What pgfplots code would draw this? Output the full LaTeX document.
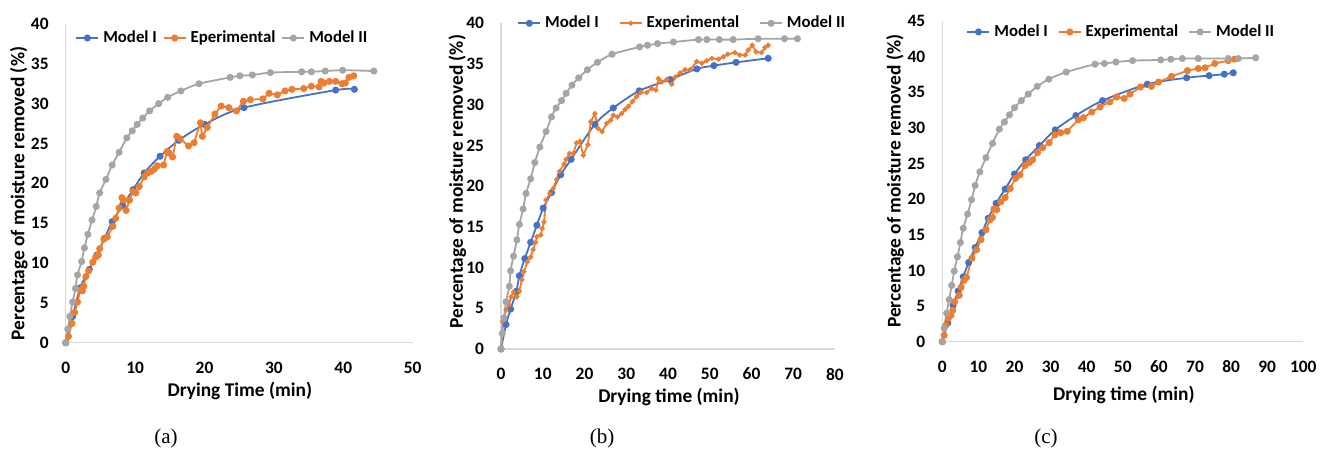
\documentclass[border=0pt]{standalone}
\usepackage{pgfplots}
\pgfplotsset{compat=1.18}
\usepackage{fontspec}
\setmainfont{Carlito}
\newfontfamily\capfont{Liberation Serif}

\definecolor{mblue}{HTML}{4472C4}
\definecolor{morange}{HTML}{ED7D31}
\definecolor{mgray}{HTML}{A5A5A5}
\definecolor{axgray}{HTML}{D9D9D9}

\newcommand\labfont{\fontsize{9.7}{11}\selectfont\bfseries}

\pgfplotsset{
  panel/.style={
    scale only axis,
    clip=false,
    axis lines*=left,
    axis line style={draw=axgray, line width=0.8pt, -},
    major tick length=0pt,
    /pgf/number format/assume math mode=true,
    tick label style={font=\fontsize{8.7}{10}\selectfont\bfseries},
    yticklabel shift=5pt,
    xticklabel shift=6pt,
    ymin=0, xmin=0,
    legend columns=3,
    legend style={draw=none, fill=none, font=\fontsize{8.4}{10}\selectfont\bfseries,
      inner sep=0pt, anchor=west},
    legend cell align=left,
    legend image code/.code={%
      \draw[mark repeat=2,mark phase=2,##1] plot coordinates {(0pt,0pt) (5.5pt,0pt) (11pt,0pt)};},
  },
  m1/.style={color=mblue, line width=0.9pt, mark=*, mark size=1.3pt, smooth},
  ex/.style={color=morange, line width=0.9pt, mark=*, mark size=1.3pt},
  m2/.style={color=mgray, line width=0.9pt, mark=*, mark size=1.3pt, smooth},
}

\begin{document}
\begin{tikzpicture}
\useasboundingbox (0,0) rectangle (666.5pt,227pt);

% ---------- (a)
\begin{axis}[panel,
  at={(32.85pt,55.65pt)}, anchor=south west,
  width=173.5pt, height=159.35pt,
  xmax=50, ymax=40,
  xtick={0,10,...,50}, ytick={0,5,...,40},
  xlabel={Drying Time (min)},
  ylabel={Percentage of moisture removed (\%)},
  every axis x label/.style={at={(axis description cs:0.502,-0.152)}, anchor=center, font=\labfont},
  every axis y label/.style={at={(axis description cs:-0.135,0.468)}, rotate=90, anchor=center, font=\labfont},
  legend style={at={(axis description cs:0.027,0.956)}},
  /tikz/every even column/.append style={column sep=1pt},
]
\addplot[m1] coordinates {
(0,0) (1.0,3.3) (2.1,6.9) (3.4,9.2) (4.5,11.0) (5.6,13.1) (6.7,15.2) (8.2,17.2)
(9.7,19.2) (11.3,21.3) (13.6,23.4) (16.3,25.4) (20.0,27.4) (25.7,29.5) (38.9,31.7) (41.6,31.8)};
\addplot[ex] coordinates {
(0,0) (0.4,0.8) (0.9,2.4) (1.3,3.8) (1.7,5.1) (2.1,6.6) (2.4,6.5) (2.6,7.1) (2.9,8.3)
(3.3,9.0) (3.9,10.1) (4.3,10.7) (4.7,11.0) (4.9,11.8) (5.5,13.0) (6.0,13.3) (6.8,14.6)
(7.2,15.6) (7.7,16.9) (8.1,18.2) (8.4,17.9) (8.7,16.6) (9.2,17.9) (9.7,19.0) (10.1,18.8)
(10.6,19.6) (11.3,20.8) (11.8,21.3) (12.3,21.5) (12.8,21.8) (13.2,22.2) (14.1,22.3)
(14.6,24.0) (14.9,23.8) (15.4,23.3) (16.0,25.9) (16.5,25.6) (17.7,24.7) (18.5,25.1)
(19.4,27.6) (19.7,25.9) (20.4,27.0) (21.5,28.7) (22.4,29.7) (23.5,29.5) (24.6,29.1)
(25.6,30.3) (26.6,30.5) (28.4,30.6) (29.3,31.3) (30.5,31.1) (31.6,31.6) (32.6,31.8)
(34.3,31.9) (35.4,32.2) (36.5,32.1) (36.8,32.8) (37.2,32.6) (38.0,32.8) (38.9,32.8)
(39.8,32.5) (40.3,32.6) (40.8,33.3) (41.5,33.5)};
\addplot[m2] coordinates {
(0,0) (0.3,1.7) (0.6,3.3) (1.0,5.1) (1.4,6.8) (1.7,8.5) (2.3,10.2) (2.7,11.9) (3.2,13.6)
(3.8,15.4) (4.4,17.1) (4.9,18.8) (5.8,20.5) (6.7,22.3) (7.7,23.9) (8.8,25.7) (9.6,26.6)
(10.3,27.4) (11.1,28.2) (12.1,29.1) (13.4,30.0) (14.7,30.8) (16.6,31.6) (19.2,32.5)
(23.7,33.3) (25.1,33.5) (26.9,33.6) (29.5,33.9) (34.0,34.0) (35.4,34.0) (37.4,34.1)
(39.9,34.2) (44.4,34.1)};
\legend{Model I, Eperimental, Model II}
\end{axis}

% ---------- (b)
\begin{axis}[panel,
  at={(250.5pt,52.5pt)}, anchor=south west,
  width=167pt, height=162.85pt,
  xmax=80, ymax=40,
  xtick={0,10,...,80}, ytick={0,5,...,40},
  xlabel={Drying time (min)},
  ylabel={Percentage of moisture removed (\%)},
  every axis x label/.style={at={(axis description cs:0.503,-0.146)}, anchor=center, font=\labfont},
  every axis y label/.style={at={(axis description cs:-0.131,0.514)}, rotate=90, anchor=center, font=\labfont},
  legend style={at={(axis description cs:0.048,1.0)}},
  /tikz/every even column/.append style={column sep=8pt},
]
\addplot[m1] coordinates {
(0,0) (1.2,3.0) (2.3,4.9) (3.7,7.1) (4.4,9.0) (5.7,11.1) (7.1,13.1) (8.6,15.2) (10.1,17.3)
(12.1,19.2) (14.3,21.4) (16.8,23.3) (22.5,27.6) (26.9,29.6) (33.1,31.7) (40.5,33.1)
(46.9,34.4) (51.0,34.8) (56.3,35.2) (64.0,35.7)};
\addplot[ex, mark size=0.8pt] coordinates {
(0,0) (0.4,3.4) (1.2,4.8) (1.9,5.4) (2.4,6.4) (3.0,7.0) (3.8,6.4) (4.4,7.1) (5.0,8.5)
(5.5,9.5) (6.3,10.7) (7.1,11.3) (7.7,12.2) (8.3,13.1) (8.6,13.8) (9.5,14.0) (9.9,14.8)
(10.3,15.6) (10.8,18.3) (11.7,19.1) (12.5,19.7) (13.3,20.8) (14.0,21.8) (15.1,22.7)
(15.6,23.3) (16.4,24.0) (17.3,24.0) (18.1,25.3) (18.9,25.5) (19.7,23.8) (20.8,25.1)
(21.5,27.9) (22.5,28.9) (23.2,27.1) (24.2,26.7) (25.3,27.7) (26.3,28.1) (26.9,28.7)
(27.9,28.5) (28.9,28.9) (29.7,29.4) (30.5,29.8) (31.5,30.4) (32.5,31.0) (33.5,31.5)
(34.9,31.5) (36.1,32.0) (37.1,31.8) (37.7,33.2) (38.5,32.8) (39.7,33.1) (40.9,32.5)
(41.7,33.4) (42.9,33.9) (44.1,34.3) (45.3,34.3) (46.9,35.3) (48.1,35.1) (49.3,35.4)
(50.5,35.7) (52.1,35.6) (53.3,35.9) (54.3,36.2) (56.0,36.4) (57.2,36.1) (58.5,36.1)
(59.2,36.7) (60.2,37.3) (61.1,36.5) (62.4,36.4) (63.2,37.0) (64.0,37.3)};
\addplot[m2] coordinates {
(0,0) (0.3,1.9) (0.7,3.8) (1.2,5.8) (2.0,7.7) (2.3,9.6) (3.0,11.4) (3.8,13.4) (4.4,15.3)
(5.3,17.2) (6.0,19.1) (7.1,20.9) (8.1,22.9) (9.3,24.8) (10.8,26.7) (12.1,28.5) (13.2,29.6)
(14.5,30.5) (15.6,31.4) (17.0,32.4) (18.6,33.3) (20.7,34.3) (23.1,35.2) (26.6,36.2)
(33.2,37.1) (35.1,37.3) (37.5,37.5) (41.3,37.7) (47.3,38.0) (49.3,38.0) (52.3,38.0)
(55.6,38.0) (61.6,38.1) (67.9,38.1) (71.0,38.1)};
\legend{Model I, Experimental, Model II}
\end{axis}

% ---------- (c)
\begin{axis}[panel,
  at={(471.15pt,56.15pt)}, anchor=south west,
  width=180.5pt, height=160.5pt,
  xmax=100, ymax=45,
  xtick={0,10,...,100}, ytick={0,5,...,45},
  xlabel={Drying time (min)},
  ylabel={Percentage of moisture removed (\%)},
  every axis x label/.style={at={(axis description cs:0.503,-0.166)}, anchor=center, font=\labfont},
  every axis y label/.style={at={(axis description cs:-0.131,0.50)}, rotate=90, anchor=center, font=\labfont},
  legend style={at={(axis description cs:0.066,0.965)}},
  /tikz/every even column/.append style={column sep=3pt},
]
\addplot[m1] coordinates {
(0,0) (1.5,2.6) (3.0,5.1) (4.4,7.1) (5.8,9.1) (7.3,11.1) (9.1,13.2) (11.0,15.3) (12.7,17.3)
(14.9,19.4) (17.4,21.4) (20.0,23.5) (23.1,25.5) (26.9,27.5) (31.3,29.7) (37.0,31.7)
(44.4,33.8) (56.8,36.1) (67.7,37.0) (73.9,37.3) (78.1,37.5) (80.6,37.7)};
\addplot[ex] coordinates {
(0,0) (0.5,0.9) (1.0,2.3) (1.7,3.3) (2.4,3.7) (2.9,4.4) (3.4,5.6) (4.7,6.5) (5.2,7.6)
(6.0,8.6) (6.7,9.0) (8.2,11.7) (9.5,12.9) (10.7,14.3) (12.1,15.7) (13.2,17.1) (13.9,17.4)
(14.3,18.6) (15.1,18.5) (16.2,19.6) (17.4,20.2) (18.8,21.5) (20.3,22.9) (21.5,23.4)
(22.9,24.7) (24.1,25.1) (25.0,25.5) (26.4,26.5) (27.8,27.2) (29.6,27.9) (31.2,29.0)
(32.8,29.3) (34.6,29.5) (37.7,31.1) (39.1,31.4) (41.4,32.2) (43.7,32.9) (46.4,33.6)
(48.3,34.3) (50.4,34.1) (52.0,34.7) (54.9,35.7) (57.9,35.8) (59.9,36.4) (63.5,37.2)
(67.9,38.0) (70.9,38.3) (72.8,38.4) (75.5,39.0) (79.2,39.4) (80.9,39.6)};
\addplot[m2] coordinates {
(0,0) (0.5,1.9) (1.2,4.0) (1.9,5.9) (2.6,7.9) (3.3,9.9) (4.2,11.9) (5.0,13.9) (5.8,15.9)
(7.0,17.9) (8.1,19.9) (9.1,21.9) (10.4,23.8) (12.1,25.8) (13.9,27.8) (15.8,29.8)
(17.2,30.8) (18.6,31.8) (20.0,32.8) (21.9,33.8) (23.8,34.7) (26.3,35.8) (29.5,36.8)
(34.3,37.8) (42.3,38.9) (44.9,39.0) (48.1,39.2) (52.7,39.4) (60.5,39.5) (63.3,39.6)
(66.5,39.7) (70.9,39.7) (79.2,39.7) (82.0,39.7) (86.8,39.8)};
\legend{Model I, Experimental, Model II}
\end{axis}

\node[font=\capfont\fontsize{10.5}{12}\selectfont] at (83pt,8pt) {(a)};
\node[font=\capfont\fontsize{10.5}{12}\selectfont] at (301pt,8pt) {(b)};
\node[font=\capfont\fontsize{10.5}{12}\selectfont] at (523pt,8pt) {(c)};
\end{tikzpicture}
\end{document}
